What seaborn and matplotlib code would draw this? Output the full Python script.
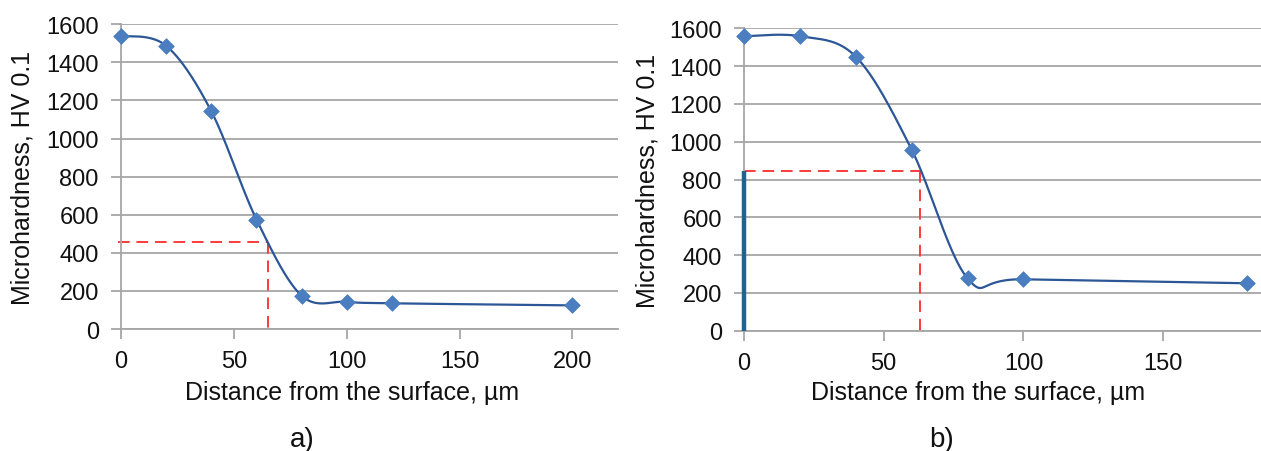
import numpy as np
import pandas as pd
import matplotlib
matplotlib.use("Agg")
import matplotlib.pyplot as plt
import seaborn as sns

# ---- data ----
dist_a = [0, 20, 40, 60, 80, 100, 120, 200]
hv_a = [1540, 1487, 1143, 575, 175, 143, 135, 124]
dist_b = [0, 20, 40, 60, 80, 100, 180]
hv_b = [1558, 1558, 1450, 958, 277, 272, 251]
ref_a = (65, 455)      # red dashed guide (depth, hardness)
ref_b = (63, 843)
bar_b = 843            # thick bar at surface in panel b
yticks = [0, 200, 400, 600, 800, 1000, 1200, 1400, 1600]
xticks_a = [0, 50, 100, 150, 200]
xticks_b = [0, 50, 100, 150]
xlabel = "Distance from the surface, µm"
ylabel = "Microhardness, HV 0.1"

sns.set_style("white")
plt.rcParams['font.family'] = ['Liberation Sans', 'DejaVu Sans']

LINE = "#2C5696"
MARK = "#4A7EC0"
GRID = "#A6A6A6"
RED = "#FF3B3B"
BAR = "#1F6391"
TXT = "#111111"


def smooth(xs, ys, n=40):
    """Excel-like smoothed line (Catmull-Rom Bezier) through the points."""
    P = np.column_stack([xs, ys]).astype(float)
    out = []
    for i in range(len(P) - 1):
        p0 = P[i - 1] if i > 0 else P[i]
        p1, p2 = P[i], P[i + 1]
        p3 = P[i + 2] if i + 2 < len(P) else P[i + 1]
        c1 = p1 + (p2 - p0) / 6.0
        c2 = p2 - (p3 - p1) / 6.0
        t = np.linspace(0, 1, n)[:, None]
        seg = ((1 - t) ** 3) * p1 + 3 * ((1 - t) ** 2) * t * c1 + 3 * (1 - t) * t ** 2 * c2 + t ** 3 * p2
        out.append(seg if i == 0 else seg[1:])
    S = np.vstack(out)
    return pd.DataFrame({"x": S[:, 0], "y": S[:, 1], "o": np.arange(len(S))})


fig = plt.figure(figsize=(12.61, 4.52), dpi=100)
axA = fig.add_axes([0.0960, 0.2699, 0.3938, 0.6741])
axB = fig.add_axes([0.5900, 0.2661, 0.4100, 0.6691])


def style(ax, xmax, xticks):
    ax.set_xlim(0, xmax)
    ax.set_ylim(0, 1600)
    ax.set_yticks(yticks)
    ax.set_xticks(xticks)
    ax.grid(axis="y", color=GRID, linewidth=1.3)
    ax.grid(axis="x", visible=False)
    for s in ["top", "right"]:
        ax.spines[s].set_visible(False)
    for s in ["left", "bottom"]:
        ax.spines[s].set_color(GRID)
        ax.spines[s].set_linewidth(1.3)
    ax.tick_params(axis="both", direction="out", length=7, width=1.3, color=GRID,
                   labelsize=17, labelcolor=TXT)
    ax.tick_params(axis="y", pad=9, left=True)
    ax.tick_params(axis="x", pad=8, bottom=True)
    ax.set_axisbelow(True)


def draw(ax, xs, ys):
    df = smooth(xs, ys)
    sns.lineplot(data=df, x="x", y="y", sort=False, estimator=None, ax=ax,
                 color=LINE, linewidth=1.6, zorder=3)
    pts = pd.DataFrame({"x": xs, "y": ys})
    sns.scatterplot(data=pts, x="x", y="y", ax=ax, marker="D", s=64,
                    color=MARK, edgecolor=MARK, linewidth=0.5, zorder=4, clip_on=False)


# panel a
style(axA, 220, xticks_a)
draw(axA, dist_a, hv_a)
axA.plot([-1.3, ref_a[0]], [ref_a[1], ref_a[1]], color=RED, lw=1.4, ls=(0, (6, 3.5)), clip_on=False, zorder=2)
axA.plot([ref_a[0], ref_a[0]], [ref_a[1], -10], color=RED, lw=1.4, ls=(0, (6, 3.5)), clip_on=False, zorder=2)

# panel b
style(axB, 185, xticks_b)
draw(axB, dist_b, hv_b)
axB.plot([0, ref_b[0]], [ref_b[1], ref_b[1]], color=RED, lw=1.4, ls=(0, (6, 3.5)), clip_on=False, zorder=2)
axB.plot([ref_b[0], ref_b[0]], [ref_b[1], -10], color=RED, lw=1.4, ls=(0, (6, 3.5)), clip_on=False, zorder=2)
axB.plot([0, 0], [0, bar_b], color=BAR, lw=3.2, solid_capstyle="butt", zorder=5, clip_on=False)

for ax, lx, ly, yx in [(axA, 0.466, -0.207, -0.198), (axB, 0.4536, -0.203, -0.1857)]:
    ax.set_xlabel(xlabel, fontsize=18, color=TXT, va="center")
    ax.set_ylabel(ylabel, fontsize=18, color=TXT, va="center")
    ax.xaxis.set_label_coords(lx, ly)
    ax.yaxis.set_label_coords(yx, 0.5)

fig.text(0.2393, 0.026, "a)", fontsize=20, ha="center", va="center", color=TXT)
fig.text(0.7465, 0.026, "b)", fontsize=20, ha="center", va="center", color=TXT)

fig.savefig("out.png", dpi=100, facecolor="white")
